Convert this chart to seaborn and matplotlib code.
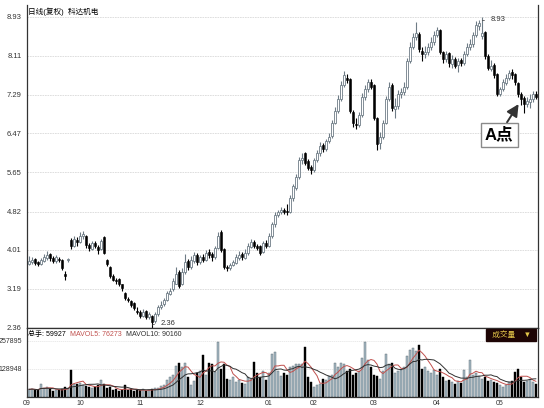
import numpy as np
import pandas as pd
import matplotlib
matplotlib.use("Agg")
import matplotlib.pyplot as plt
import seaborn as sns

# daily candles (Sep -> May)
opens = [3.72, 3.76, 3.82, 3.76, 3.72, 3.78, 3.84, 3.92, 3.84, 3.78,
         3.82, 3.80, 3.50, 3.80, 4.22, 4.10, 4.22, 4.18, 4.30, 4.30,
         4.12, 4.02, 4.16, 4.08, 4.02, 4.28, 3.80, 3.65, 3.46, 3.36,
         3.40, 3.28, 3.10, 2.98, 2.92, 2.88, 2.72, 2.70, 2.62, 2.72,
         2.60, 2.62, 2.50, 2.66, 2.80, 2.86, 2.96, 3.08, 3.18, 3.30,
         3.55, 3.30, 3.55, 3.78, 3.65, 3.78, 3.90, 3.76, 3.86, 3.80,
         3.96, 3.92, 3.86, 4.05, 4.38, 4.02, 3.64, 3.62, 3.70, 3.74,
         3.84, 3.92, 3.84, 3.94, 4.08, 4.18, 4.10, 4.10, 3.96, 4.16,
         4.10, 4.30, 4.55, 4.74, 4.80, 4.85, 4.82, 4.80, 5.10, 5.32,
         5.55, 5.90, 6.05, 5.88, 5.76, 5.70, 5.90, 6.05, 6.22, 6.15,
         6.30, 6.42, 6.70, 6.95, 7.20, 7.50, 7.65, 7.62, 6.92, 6.66,
         6.64, 6.86, 7.24, 7.40, 7.56, 7.50, 6.80, 6.26, 6.40, 6.70,
         7.20, 7.50, 6.98, 7.05, 7.30, 7.34, 7.45, 8.00, 8.30, 8.50,
         8.58, 8.22, 8.14, 8.20, 8.30, 8.40, 8.55, 8.66, 8.18, 8.04,
         8.16, 7.94, 8.04, 7.92, 8.02, 7.96, 8.14, 8.30, 8.36, 8.54,
         8.74, 8.52, 8.62, 8.10, 7.84, 7.92, 7.72, 7.30, 7.40, 7.54,
         7.64, 7.76, 7.72, 7.54, 7.30, 7.22, 7.10, 7.14, 7.20, 7.30]
closes = [3.78, 3.80, 3.74, 3.72, 3.80, 3.85, 3.90, 3.83, 3.78, 3.85,
          3.80, 3.62, 3.45, 3.82, 4.10, 4.25, 4.18, 4.30, 4.35, 4.12,
          4.05, 4.15, 4.10, 4.00, 4.20, 3.95, 3.72, 3.45, 3.38, 3.35,
          3.30, 3.20, 3.00, 2.95, 2.85, 2.78, 2.70, 2.62, 2.70, 2.60,
          2.65, 2.48, 2.65, 2.80, 2.85, 2.95, 3.10, 3.15, 3.35, 3.50,
          3.25, 3.55, 3.75, 3.65, 3.80, 3.90, 3.75, 3.85, 3.80, 3.95,
          3.90, 3.85, 4.05, 4.30, 4.00, 3.65, 3.62, 3.70, 3.75, 3.85,
          3.90, 3.85, 3.95, 4.10, 4.18, 4.10, 4.05, 3.95, 4.15, 4.10,
          4.30, 4.55, 4.75, 4.80, 4.85, 4.82, 4.80, 5.10, 5.35, 5.55,
          5.90, 5.95, 5.85, 5.75, 5.70, 5.90, 6.05, 6.20, 6.15, 6.30,
          6.40, 6.70, 6.95, 7.20, 7.50, 7.70, 7.60, 6.95, 6.70, 6.65,
          6.85, 7.25, 7.40, 7.55, 7.45, 6.80, 6.25, 6.40, 6.70, 7.20,
          7.45, 7.00, 7.05, 7.30, 7.35, 7.45, 8.00, 8.30, 8.50, 8.60,
          8.25, 8.15, 8.20, 8.30, 8.40, 8.55, 8.65, 8.20, 8.05, 8.15,
          7.95, 8.05, 7.90, 8.00, 7.95, 8.15, 8.30, 8.35, 8.55, 8.75,
          8.80, 8.60, 8.10, 7.85, 7.90, 7.70, 7.30, 7.40, 7.55, 7.65,
          7.75, 7.70, 7.55, 7.30, 7.20, 7.10, 7.15, 7.20, 7.30, 7.25]
highs = [3.88, 3.86, 3.84, 3.78, 3.84, 3.92, 3.98, 3.95, 3.88, 3.90,
         3.86, 3.82, 3.56, 3.84, 4.26, 4.30, 4.28, 4.38, 4.40, 4.32,
         4.15, 4.20, 4.20, 4.12, 4.25, 4.30, 3.82, 3.66, 3.50, 3.42,
         3.42, 3.30, 3.12, 3.02, 2.96, 2.90, 2.80, 2.74, 2.76, 2.74,
         2.70, 2.64, 2.70, 2.84, 2.92, 3.00, 3.14, 3.20, 3.42, 3.65,
         3.58, 3.62, 3.92, 3.82, 3.88, 3.96, 3.94, 3.90, 3.92, 4.00,
         4.02, 3.96, 4.10, 4.38, 4.42, 4.05, 3.70, 3.74, 3.80, 3.92,
         3.98, 3.96, 4.02, 4.16, 4.24, 4.22, 4.14, 4.12, 4.20, 4.22,
         4.36, 4.60, 4.82, 4.86, 4.92, 4.90, 4.98, 5.16, 5.40, 5.62,
         5.98, 6.05, 6.08, 5.92, 5.80, 5.96, 6.12, 6.28, 6.26, 6.36,
         6.48, 6.76, 7.02, 7.28, 7.58, 7.78, 7.72, 7.64, 6.96, 6.80,
         6.92, 7.32, 7.50, 7.62, 7.62, 7.52, 6.82, 6.50, 6.76, 7.26,
         7.55, 7.54, 7.22, 7.38, 7.42, 7.55, 8.06, 8.40, 8.60, 8.82,
         8.62, 8.30, 8.32, 8.38, 8.50, 8.64, 8.72, 8.68, 8.22, 8.22,
         8.18, 8.12, 8.08, 8.06, 8.06, 8.22, 8.38, 8.46, 8.62, 8.84,
         8.86, 8.93, 8.64, 8.14, 8.02, 7.96, 7.74, 7.46, 7.62, 7.72,
         7.82, 7.84, 7.74, 7.56, 7.34, 7.26, 7.24, 7.30, 7.36, 7.36]
lows = [3.70, 3.72, 3.70, 3.66, 3.70, 3.76, 3.80, 3.78, 3.74, 3.74,
        3.76, 3.58, 3.38, 3.76, 4.02, 4.08, 4.10, 4.15, 4.25, 4.05,
        3.98, 4.00, 4.05, 3.92, 4.00, 3.92, 3.68, 3.42, 3.35, 3.30,
        3.25, 3.15, 2.96, 2.90, 2.80, 2.74, 2.66, 2.58, 2.60, 2.56,
        2.56, 2.36, 2.46, 2.62, 2.76, 2.82, 2.94, 3.05, 3.14, 3.28,
        3.20, 3.26, 3.50, 3.58, 3.60, 3.74, 3.70, 3.72, 3.76, 3.78,
        3.84, 3.78, 3.82, 4.02, 3.96, 3.60, 3.56, 3.58, 3.66, 3.72,
        3.80, 3.80, 3.82, 3.90, 4.04, 4.06, 4.00, 3.90, 3.94, 4.06,
        4.08, 4.26, 4.50, 4.70, 4.76, 4.76, 4.74, 4.78, 5.05, 5.28,
        5.50, 5.82, 5.80, 5.70, 5.62, 5.66, 5.86, 6.00, 6.08, 6.10,
        6.26, 6.38, 6.66, 6.90, 7.15, 7.45, 7.54, 6.90, 6.60, 6.56,
        6.60, 6.82, 7.18, 7.34, 7.40, 6.76, 6.12, 6.15, 6.36, 6.66,
        7.15, 6.95, 6.80, 6.98, 7.22, 7.28, 7.40, 7.95, 8.25, 8.44,
        8.20, 8.00, 8.06, 8.12, 8.24, 8.34, 8.50, 8.15, 7.96, 7.98,
        7.88, 7.86, 7.86, 7.76, 7.90, 7.92, 8.10, 8.24, 8.30, 8.50,
        8.66, 8.46, 8.04, 7.80, 7.78, 7.64, 7.26, 7.26, 7.36, 7.50,
        7.60, 7.62, 7.50, 7.24, 7.08, 6.90, 7.02, 7.00, 7.14, 7.20]
# volume in thousands of lots
volumes = [35, 38, 32, 30, 62, 40, 45, 35, 28, 32,
           30, 38, 45, 40, 124, 62, 58, 66, 55, 50,
           45, 40, 48, 55, 78, 60, 42, 45, 30, 35,
           28, 32, 55, 30, 35, 28, 32, 30, 35, 28,
           30, 38, 40, 42, 50, 55, 80, 90, 100, 145,
           155, 140, 157, 92, 55, 75, 110, 120, 193, 100,
           157, 150, 115, 255, 130, 150, 85, 80, 90, 70,
           80, 65, 60, 90, 85, 161, 110, 90, 120, 80,
           110, 200, 205, 120, 95, 110, 100, 140, 145, 150,
           150, 150, 230, 90, 70, 45, 55, 60, 85, 80,
           95, 100, 157, 140, 157, 150, 120, 130, 100, 110,
           120, 180, 253, 170, 140, 100, 95, 85, 120, 200,
           150, 157, 110, 120, 125, 140, 190, 215, 225, 210,
           240, 130, 140, 120, 110, 125, 100, 130, 90, 75,
           80, 70, 60, 75, 65, 124, 90, 170, 100, 110,
           95, 85, 90, 75, 80, 70, 65, 55, 45, 55,
           70, 75, 115, 128, 90, 70, 75, 85, 70, 60]

month_pos = [-0.67, 17, 37, 57, 80, 95, 115, 136, 157]
month_labels = ["09", "10", "11", "12", "01", "02", "03", "04", "05"]
price_ticks = [2.36, 3.19, 4.01, 4.82, 5.65, 6.47, 7.29, 8.11, 8.93]
vol_ticks = [128948, 257895]
vol_header = ["总手: 59927", "MAVOL5: 76273", "MAVOL10: 90160"]

df = pd.DataFrame({"open": opens, "close": closes, "high": highs,
                   "low": lows, "vol": np.array(volumes) * 1000})
df["idx"] = np.arange(len(df))
df["up"] = df["close"] >= df["open"]
df["ma5"] = df["vol"].rolling(5, min_periods=1).mean()
df["ma10"] = df["vol"].rolling(10, min_periods=1).mean()

sns.set_theme(style="white")
plt.rcParams["font.family"] = ["Liberation Sans", "Noto Sans CJK SC", "DejaVu Sans"]

W, H = 544, 408
fig = plt.figure(figsize=(W / 100, H / 100), dpi=100)
axp = fig.add_axes([27 / W, 1 - 328 / H, 511 / W, 323 / H])
axv = fig.add_axes([27 / W, 1 - 397 / H, 511 / W, 69 / H], sharex=axp)

up_edge = "#6e7c86"
up = df[df["up"]]
dn = df[~df["up"]]

# candles
axp.vlines(up["idx"], up["low"], up["high"], color=up_edge, lw=0.8, zorder=2)
axp.vlines(dn["idx"], dn["low"], dn["high"], color="black", lw=0.8, zorder=2)
axp.bar(up["idx"], np.maximum(up["close"] - up["open"], 0.025), bottom=up["open"],
        width=0.75, color="white", edgecolor=up_edge, linewidth=0.6, zorder=3)
axp.bar(dn["idx"], np.maximum(dn["open"] - dn["close"], 0.025), bottom=dn["close"],
        width=0.75, color="black", edgecolor="black", linewidth=0.4, zorder=3)

axp.set_xlim(-0.67, 169.67)
axp.set_ylim(2.36, 2.36 + 323 / 47.34)
axp.set_yticks(price_ticks)
axp.set_yticklabels([f"{v:.2f}" for v in price_ticks])
axp.grid(axis="y", color="#d9d9d9", lw=0.6, ls=(0, (2, 1)))
axp.tick_params(axis="y", labelsize=5.5, length=2, pad=2, colors="#333333")
axp.tick_params(axis="x", labelbottom=False, length=0)
for s in ["left", "right", "bottom"]:
    axp.spines[s].set_visible(True)
    axp.spines[s].set_color("#333333")
    axp.spines[s].set_linewidth(0.9)
axp.spines["top"].set_visible(False)

# extreme labels
imax = int(np.argmax(df["high"]))
imin = int(np.argmin(df["low"]))
axp.annotate(f"{df['high'][imax]:.2f}", xy=(imax, df["high"][imax]), xytext=(6, -2),
             textcoords="offset points", fontsize=5.5, color="#333333", va="center",
             arrowprops=dict(arrowstyle="-", color="#333333", lw=0.5,
                             connectionstyle="angle,angleA=0,angleB=90,rad=0"))
axp.annotate(f"{df['low'][imin]:.2f}", xy=(imin, df["low"][imin]), xytext=(6, 3),
             textcoords="offset points", fontsize=5.5, color="#333333", va="center",
             arrowprops=dict(arrowstyle="-", color="#333333", lw=0.5,
                             connectionstyle="angle,angleA=0,angleB=90,rad=0"))

# "A点" callout
axp.annotate("A点", xy=(163.7, 7.14), xytext=(156.7, 6.44), fontsize=12,
             fontweight="bold", ha="center", va="center", color="black",
             bbox=dict(boxstyle="square,pad=0.25", fc="white", ec="#8a8a8a", lw=1),
             arrowprops=dict(arrowstyle="-|>,head_length=0.6,head_width=0.3",
                             color="#333333", lw=1.4, shrinkA=0, shrinkB=2))

fig.text(28 / W, 1 - 12 / H, "日线(复权)  科达机电", fontsize=5.5, va="center", color="black")

# volume panel
axv.bar(up["idx"], up["vol"], width=0.75, color="#a7bac4", edgecolor="#55636b",
        linewidth=0.3, zorder=2)
axv.bar(dn["idx"], dn["vol"], width=0.75, color="black", edgecolor="black",
        linewidth=0.3, zorder=2)
sns.lineplot(x=df["idx"], y=df["ma5"], ax=axv, color="#c0504d", lw=0.7, legend=False, zorder=3)
sns.lineplot(x=df["idx"], y=df["ma10"], ax=axv, color="#303030", lw=0.7, legend=False, zorder=3)
axv.set_ylim(0, 317750)
axv.set_yticks(vol_ticks)
axv.set_yticklabels([str(v) for v in vol_ticks])
axv.set_ylabel("")
axv.set_xlabel("")
axv.grid(axis="y", color="#e3e3e3", lw=0.5, ls=(0, (2, 1)))
axv.tick_params(axis="y", labelsize=5, length=2, pad=1.5, colors="#333333")
axv.set_xticks(month_pos)
axv.set_xticklabels(month_labels)
axv.tick_params(axis="x", labelsize=5, length=0, pad=2, colors="#333333")
for s in ["left", "right", "bottom", "top"]:
    axv.spines[s].set_visible(True)
    axv.spines[s].set_color("#333333")
    axv.spines[s].set_linewidth(0.9)
axv.set_xlim(-0.67, 169.67)

# header of the volume panel, each piece placed after the previous one
renderer = fig.canvas.get_renderer()
xpix = 28
for txt, col in zip(vol_header, ["black", "#c0504d", "#303030"]):
    t = fig.text(xpix / W, 1 - 334 / H, txt, fontsize=5, va="center", color=col)
    xpix += t.get_window_extent(renderer).width + 4

fig.text(511 / W, 1 - 335 / H, "  成交量    ▼ ", fontsize=5.5, va="center", ha="center",
         color="#e6c84a",
         bbox=dict(boxstyle="square,pad=0.25", fc="#1e0505", ec="#1e0505"))

fig.savefig("out.png", dpi=100)
